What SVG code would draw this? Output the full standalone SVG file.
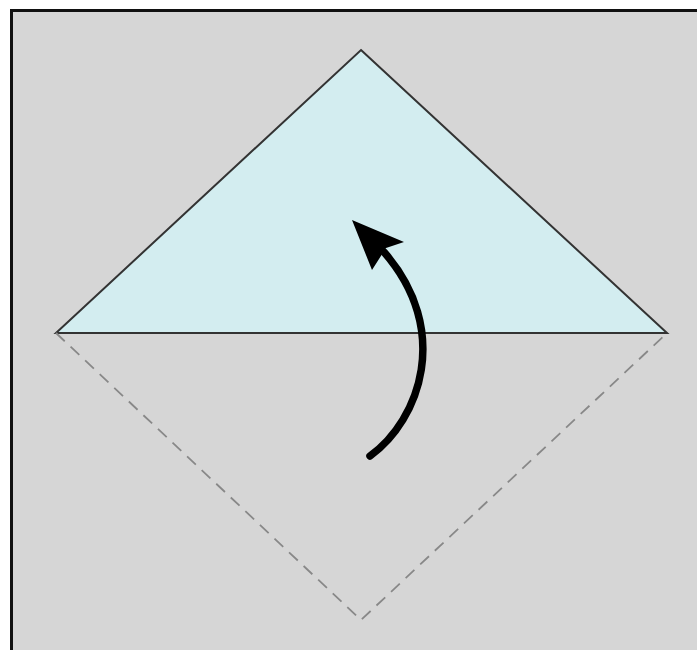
<svg xmlns="http://www.w3.org/2000/svg" width="697" height="650" viewBox="0 0 697 650">
<style>
.frame{fill:#d6d6d6;stroke:#111;stroke-width:3}
.tri{fill:#d3edf0;stroke:#333;stroke-width:2;stroke-linejoin:miter}
.fold{fill:none;stroke:#888;stroke-width:1.8;stroke-dasharray:12 8}
.arrow{fill:none;stroke:#000;stroke-width:7.5;stroke-linecap:round}
</style>
<rect class="frame" x="11.5" y="10.5" width="700" height="660"/>
<g id="triangle">
<polygon class="tri" points="361,50 667,333 56,333"/>
</g>
<g id="connectors">
<polyline class="fold" points="56,333 361,620 667,333"/>
<path class="arrow" d="M370,456 C420,420 452,330 384,252"/>
<polygon points="352,220 404,242 386,248 372,270" fill="#000"/>
</g>
</svg>
